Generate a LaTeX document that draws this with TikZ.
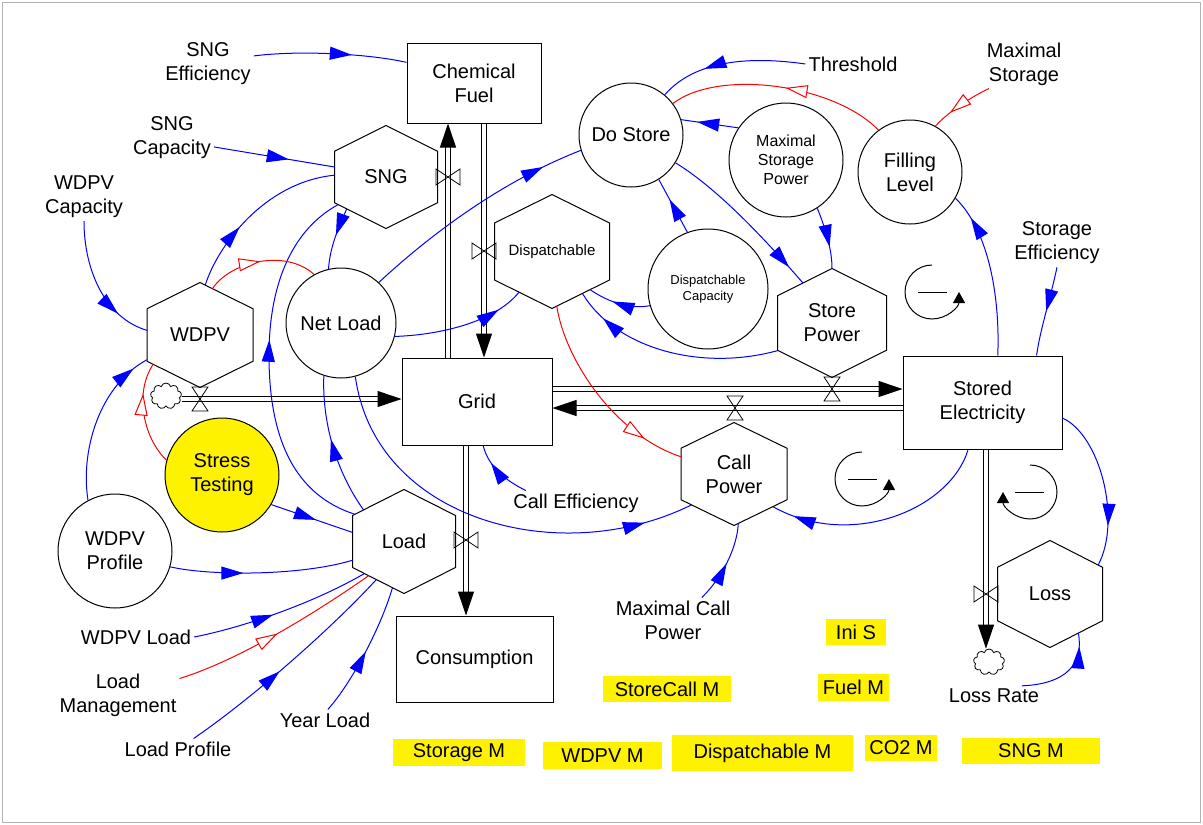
\documentclass[tikz,border=0pt]{standalone}
\usepackage{fontspec}
\setmainfont{Liberation Sans}
\usetikzlibrary{arrows.meta,calc,decorations.markings,shapes.symbols}

\newcommand{\varfont}{\fontsize{20}{24}\selectfont}
\newcommand{\midfont}{\fontsize{16}{19}\selectfont}
\newcommand{\dispfont}{\fontsize{15}{18}\selectfont}
\newcommand{\capfont}{\fontsize{13}{16}\selectfont}

% flat-sided hexagon for the rates
\makeatletter
\newdimen\hxW \newdimen\hxH \newdimen\hxX \newdimen\hxY
\def\hx@dims{%
  \southwest \hxX=\pgf@x \hxY=\pgf@y
  \northeast \hxW=\pgf@x \hxH=\pgf@y
  \advance\hxW by-\hxX \hxW=.5\hxW
  \advance\hxH by-\hxY \hxH=.5\hxH
  \advance\hxX by\hxW \advance\hxY by\hxH}
\pgfdeclareshape{hexcell}{%
  \inheritsavedanchors[from=rectangle]%
  \inheritanchor[from=rectangle]{center}%
  \inheritanchor[from=rectangle]{north}%
  \inheritanchor[from=rectangle]{south}%
  \inheritanchor[from=rectangle]{east}%
  \inheritanchor[from=rectangle]{west}%
  \anchorborder{%
    \edef\hx@dx{\the\pgf@x}\edef\hx@dy{\the\pgf@y}%
    \hx@dims
    \edef\hx@w{\the\hxW}\edef\hx@h{\the\hxH}%
    \pgfmathsetmacro\hx@t{min(\hx@w/max(abs(\hx@dx),0.01),\hx@h/(abs(\hx@dy)+abs(\hx@dx)*(\hx@h/(2*\hx@w))))}%
    \pgf@x=\hx@dx\relax \pgf@x=\hx@t\pgf@x \advance\pgf@x by\hxX
    \pgf@y=\hx@dy\relax \pgf@y=\hx@t\pgf@y \advance\pgf@y by\hxY
  }%
  \backgroundpath{%
    \hx@dims
    \pgfpathmoveto{\pgfqpoint{\hxX}{\dimexpr\hxY+\hxH\relax}}%
    \pgfpathlineto{\pgfqpoint{\dimexpr\hxX+\hxW\relax}{\dimexpr\hxY+\hxH/2\relax}}%
    \pgfpathlineto{\pgfqpoint{\dimexpr\hxX+\hxW\relax}{\dimexpr\hxY-\hxH/2\relax}}%
    \pgfpathlineto{\pgfqpoint{\hxX}{\dimexpr\hxY-\hxH\relax}}%
    \pgfpathlineto{\pgfqpoint{\dimexpr\hxX-\hxW\relax}{\dimexpr\hxY-\hxH/2\relax}}%
    \pgfpathlineto{\pgfqpoint{\dimexpr\hxX-\hxW\relax}{\dimexpr\hxY+\hxH/2\relax}}%
    \pgfpathclose
  }%
}
\makeatother

\tikzset{
  hd/.tip      = {Triangle[length=22pt,width=13pt]},
  ohd/.tip     = {Triangle[open,fill=white,length=22pt,width=13pt]},
  stock/.style = {draw, line width=1pt, align=center, inner sep=0pt},
  aux/.style   = {circle, draw, line width=1pt, align=center, inner sep=0pt},
  rate/.style  = {shape=hexcell, draw, line width=1pt, align=center, inner sep=0pt},
  lbl/.style   = {align=center, inner sep=3pt},
  badge/.style = {fill=yellow, inner sep=0pt},
  sinkcloud/.style = {shape=cloud, cloud puffs=9, draw, line width=0.8pt, inner sep=0pt,
                      minimum width=31pt, minimum height=26pt},
  link/.style  = {blue, line width=1pt, postaction={decorate},
                  decoration={markings, mark=at position #1 with {\arrow{hd}}}},
  link/.default = 0.7,
  cause/.style = {red, line width=1pt, postaction={decorate},
                  decoration={markings, mark=at position #1 with {\arrow{ohd}}}},
  cause/.default = 0.6,
  pipe/.style  = {double, double distance=4.5pt, line width=1pt,
                  arrows={-Triangle[length=24pt,width=16pt]}},
  loopsym/.style = {line width=1pt, arrows={-Triangle[length=11pt,width=12pt]}},
  valve/.pic   = {\draw[line width=0.8pt] (-8,-12) -- (8,-12) -- (-8,12) -- (8,12) -- cycle;},
}

\begin{document}
\begin{tikzpicture}[x=1pt,y=-1pt,font=\varfont]
  \useasboundingbox (0,0) rectangle (1203,825);
  \draw[gray!60, line width=1pt] (2.5,2.5) rectangle (1200,822.5);

  % stocks and clouds
  \node[stock, minimum width=134pt, minimum height=80pt] (chem) at (474,83) {Chemical\\Fuel};
  \node[stock, minimum width=150pt, minimum height=87pt] (grid) at (477,401.5) {Grid};
  \node[stock, minimum width=159pt, minimum height=93pt] (stored) at (982.5,402.5) {Stored\\Electricity};
  \node[stock, minimum width=157pt, minimum height=86pt] (cons) at (474.5,659) {Consumption};
  \node[sinkcloud] (src) at (166,396) {};
  \node[sinkcloud] (sink) at (989,662) {};

  % flows
  \coordinate (vwdpv) at (200,399);
  \coordinate (vsng) at (448,177);
  \coordinate (vdisp) at (484,251);
  \coordinate (vstore) at (832,389);
  \coordinate (vcall) at (735,408);
  \coordinate (vload) at (466,540);
  \coordinate (vloss) at (986,594);
  \draw[pipe] (src.east |- vwdpv) -- (grid.west |- vwdpv);
  \draw[pipe] (grid.north -| vsng) -- (chem.south -| vsng);
  \draw[pipe] (chem.south -| vdisp) -- (grid.north -| vdisp);
  \draw[pipe] (grid.east |- vstore) -- (stored.west |- vstore);
  \draw[pipe] (stored.west |- vcall) -- (grid.east |- vcall);
  \draw[pipe] (grid.south -| vload) -- (cons.north -| vload);
  \draw[pipe] (stored.south -| vloss) -- (sink.north -| vloss);
  \pic at (vwdpv) {valve};
  \pic[rotate=90] at (vsng) {valve};
  \pic[rotate=90] at (vdisp) {valve};
  \pic at (vstore) {valve};
  \pic at (vcall) {valve};
  \pic[rotate=90] at (vload) {valve};
  \pic[rotate=90] at (vloss) {valve};

  % rates
  \node[rate, minimum width=102pt, minimum height=102pt] (sng) at (386,177) {SNG};
  \node[rate, minimum width=105pt, minimum height=104pt] (wdpv) at (200,335) {WDPV};
  \node[rate, minimum width=114pt, minimum height=113pt, font=\dispfont] (disp) at (552,251.5) {Dispatchable};
  \node[rate, minimum width=108pt, minimum height=108pt] (storep) at (832,323) {Store\\Power};
  \node[rate, minimum width=105pt, minimum height=102pt] (callp) at (734,474) {Call\\Power};
  \node[rate, minimum width=102pt, minimum height=103pt] (load) at (404,541.5) {Load};
  \node[rate, minimum width=104pt, minimum height=106pt] (loss) at (1050,594) {Loss};

  % auxiliaries
  \node[aux, minimum size=104pt] (dostore) at (631,135) {Do Store};
  \node[aux, minimum size=114pt, font=\midfont] (msp) at (786,160) {Maximal\\Storage\\Power};
  \node[aux, minimum size=104pt] (fill) at (910,172) {Filling\\Level};
  \node[aux, minimum size=110pt] (netload) at (341,323) {Net Load};
  \node[aux, minimum size=120pt, font=\capfont] (dcap) at (708,289) {Dispatchable\\Capacity};
  \node[aux, minimum size=114pt, fill=yellow] (stress) at (222,475) {Stress\\Testing};
  \node[aux, minimum size=114pt] (wprof) at (115,551) {WDPV\\Profile};

  % constants
  \node[lbl] (sngeff) at (208,64) {SNG\\Efficiency};
  \node[lbl] (sngcap) at (172,138) {SNG\\Capacity};
  \node[lbl] (wcap) at (84,197) {WDPV\\Capacity};
  \node[lbl] (thr) at (853,64) {Threshold};
  \node[lbl] (maxst) at (1024,64) {Maximal\\Storage};
  \node[lbl] (steff) at (1057,243) {Storage\\Efficiency};
  \node[lbl] (calleff) at (576,503) {Call Efficiency};
  \node[lbl] (maxcall) at (673,620) {Maximal Call\\Power};
  \node[lbl] (lossrate) at (994,696) {Loss Rate};
  \node[lbl] (wload) at (136,637) {WDPV Load};
  \node[lbl] (lmgmt) at (118,695) {Load\\Management};
  \node[lbl] (lprof) at (178,749) {Load Profile};
  \node[lbl] (yload) at (325,720) {Year Load};

  % model switches
  \node[badge, minimum width=60pt, minimum height=26pt] (inis) at (856,632) {Ini S};
  \node[badge, minimum width=128pt, minimum height=26pt] (storecall) at (667,689) {StoreCall M};
  \node[badge, minimum width=71pt, minimum height=27pt] (fuelm) at (853.5,687) {Fuel M};
  \node[badge, minimum width=132pt, minimum height=27pt] (storagem) at (459,752.5) {Storage M};
  \node[badge, minimum width=119pt, minimum height=27pt] (wdpvm) at (602.5,755.5) {WDPV M};
  \node[badge, minimum width=181pt, minimum height=36pt] (dispm) at (762.5,753) {Dispatchable M};
  \node[badge, minimum width=72pt, minimum height=26pt] (co2m) at (901,748) {CO2 M};
  \node[badge, minimum width=138pt, minimum height=26pt] (sngm) at (1031,751) {SNG M};

  % links
  \draw[link=0.64] (sngeff.10) .. controls (300,50) and (370,54) .. (chem.163);
  \draw[link=0.62] (sngcap.-12) -- (sng.169);
  \draw[link=0.75] (wcap.south) .. controls (84,270) and (105,318) .. (wdpv.175);
  \draw[link=0.38] (wdpv.84) .. controls (218,245) and (265,182) .. (sng.178);
  \draw[link=0.45] (sng.219) .. controls (340,225) and (330,245) .. (netload.103);
  \draw[link=0.57] (load.151) .. controls (295,495) and (270,440) .. (269,360)
                   .. controls (268,280) and (295,228) .. (sng.210);
  \draw[link=0.9] (wprof.118) .. controls (80,450) and (100,385) .. (wdpv.205);
  \draw[cause=0.7] (stress.165) .. controls (145,440) and (133,395) .. (wdpv.212);
  \draw[cause=0.5] (wdpv.75) .. controls (230,262) and (285,248) .. (netload.119);
  \draw[link=0.83] (netload.47) .. controls (430,235) and (500,182) .. (dostore.197);
  \draw[link=0.8] (netload.-14) .. controls (440,335) and (495,322) .. (disp.231);
  \draw[link=0.62] (dcap.110) -- (dostore.-58);
  \draw[link=0.72] (msp.146) -- (dostore.17);
  \draw[link=0.65] (msp.-57) .. controls (826,230) and (832,250) .. (storep.north);
  \draw[link=0.88] (dostore.-32) .. controls (720,190) and (770,245) .. (storep.126);
  \draw[link=0.68] (thr.west) .. controls (750,56) and (695,60) .. (dostore.50);
  \draw[cause=0.47] (fill.127) .. controls (835,85) and (720,68) .. (dostore.37);
  \draw[cause=0.7] (maxst.215) .. controls (975,95) and (950,110) .. (fill.61);
  \draw[link=0.85] (stored.72) .. controls (1000,300) and (990,232) .. (fill.-30);
  \draw[link=0.5] (steff.south) .. controls (1050,300) and (1040,330) .. (stored.41);
  \draw[link=0.85] (storep.207) .. controls (700,372) and (615,348) .. (disp.-54);
  \draw[link=0.6] (dcap.196) .. controls (628,310) and (605,300) .. (disp.-45);
  \draw[cause=0.8] (disp.-85) .. controls (565,360) and (615,435) .. (callp.162);
  \draw[link=0.88] (netload.-75) .. controls (375,520) and (560,570) .. (callp.216);
  \draw[link=0.55] (load.142) .. controls (335,470) and (322,420) .. (netload.252);
  \draw[link=0.55] (stress.-31) -- (load.170);
  \draw[link=0.4] (wprof.-16) .. controls (210,576) and (300,576) .. (load.200);
  \draw[link=0.45] (wload.east) .. controls (240,628) and (310,605) .. (load.219);
  \draw[cause=0.5] (lmgmt.15) .. controls (240,660) and (320,610) .. (load.224);
  \draw[link=0.45] (lprof.34) .. controls (250,700) and (330,630) .. (load.234);
  \draw[link=0.5] (yload.75) .. controls (350,685) and (380,630) .. (load.256);
  \draw[link=0.7] (calleff.166) .. controls (500,478) and (487,462) .. (grid.-82);
  \draw[link=0.5] (maxcall.38) .. controls (722,578) and (737,548) .. (callp.-85);
  \draw[link=0.9] (stored.253) .. controls (950,510) and (850,550) .. (callp.-40);
  \draw[link=0.75] (stored.-11) .. controls (1100,435) and (1122,520) .. (loss.31);
  \draw[link=0.85] (lossrate.20) .. controls (1066,684) and (1084,664) .. (loss.-54);

  % loop markers
  \coordinate (lp1) at (932,292);
  \coordinate (lp2) at (862,479);
  \coordinate (lp3) at (1030,492);
  \draw[loopsym] ([shift={(90:27pt)}]lp1) arc[start angle=90, end angle=360, radius=27pt];
  \draw[line width=1pt] ([xshift=-14pt]lp1) -- ([xshift=15pt]lp1);
  \draw[loopsym] ([shift={(90:27pt)}]lp2) arc[start angle=90, end angle=360, radius=27pt];
  \draw[line width=1pt] ([xshift=-14pt]lp2) -- ([xshift=15pt]lp2);
  \draw[loopsym] ([shift={(90:27pt)}]lp3) arc[start angle=90, end angle=-180, radius=27pt];
  \draw[line width=1pt] ([xshift=-15pt]lp3) -- ([xshift=14pt]lp3);
\end{tikzpicture}
\end{document}
